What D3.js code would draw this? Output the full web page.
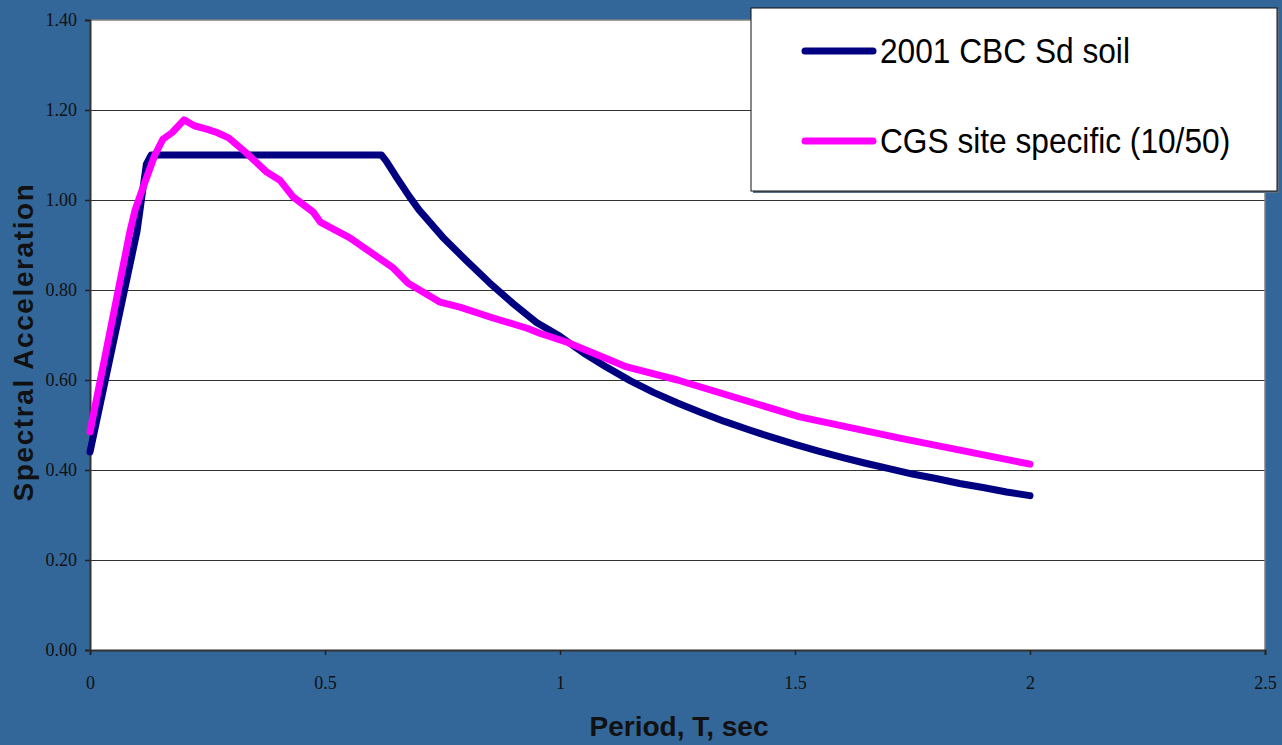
<!DOCTYPE html>
<html>
<head>
<meta charset="utf-8">
<script src="https://cdn.jsdelivr.net/npm/d3@7"></script>
<style>
  html, body { margin: 0; padding: 0; background: #336699; }
  svg { display: block; }
</style>
</head>
<body>
<svg id="chart" width="1282" height="745"></svg>
<script>
// Design response spectrum: 2001 CBC, soil type Sd
const cbcPeriod = [0, 0.10, 0.12, 0.13, 0.62, 0.63, 0.65, 0.68, 0.70, 0.75, 0.80, 0.85, 0.90, 0.95,
  1.00, 1.05, 1.10, 1.15, 1.20, 1.25, 1.30, 1.35, 1.40, 1.45, 1.50, 1.55, 1.60, 1.65, 1.70,
  1.75, 1.80, 1.85, 1.90, 1.95, 2.00];
const cbcSa = [0.44, 0.93, 1.08, 1.10, 1.10, 1.087, 1.054, 1.007, 0.978, 0.918, 0.866, 0.816, 0.770, 0.728,
  0.697, 0.660, 0.628, 0.598, 0.572, 0.549, 0.528, 0.508, 0.490, 0.473, 0.457, 0.442, 0.428, 0.415, 0.403,
  0.391, 0.381, 0.370, 0.361, 0.351, 0.343];

// CGS site-specific spectrum, 10% in 50 years
const cgsPeriod = [0, 0.085, 0.096, 0.117, 0.138, 0.155, 0.175, 0.20, 0.222, 0.25, 0.27, 0.295, 0.33,
  0.376, 0.404, 0.432, 0.475, 0.49, 0.553, 0.645, 0.677, 0.745, 0.787, 0.851, 0.93, 0.957, 1.015,
  1.142, 1.25, 1.51, 1.723, 2.00];
const cgsSa = [0.485, 0.93, 0.978, 1.04, 1.10, 1.135, 1.15, 1.178, 1.165, 1.157, 1.15, 1.138, 1.107,
  1.062, 1.044, 1.007, 0.973, 0.951, 0.916, 0.849, 0.815, 0.773, 0.762, 0.740, 0.715, 0.704, 0.684,
  0.629, 0.600, 0.518, 0.471, 0.413];

const seriesNames = ["2001 CBC Sd soil", "CGS site specific (10/50)"];
const seriesColors = ["#000080", "#ff00ff"];

const yTicks = [0, 0.2, 0.4, 0.6, 0.8, 1.0, 1.2, 1.4];
const xTicks = [0, 0.5, 1, 1.5, 2, 2.5];

const svg = d3.select("#chart");
const plot = { left: 90, top: 20, right: 1265, bottom: 650 };

const x = d3.scaleLinear().domain([0, 2.5]).range([plot.left, plot.right]);
const y = d3.scaleLinear().domain([0, 1.4]).range([plot.bottom, plot.top]);

// plot background
svg.append("rect")
  .attr("x", plot.left).attr("y", plot.top)
  .attr("width", plot.right - plot.left).attr("height", plot.bottom - plot.top)
  .attr("fill", "#ffffff");

// horizontal gridlines
svg.append("g")
  .selectAll("line")
  .data(yTicks.filter(d => d > 0 && d < 1.4))
  .join("line")
  .attr("x1", plot.left).attr("x2", plot.right)
  .attr("y1", d => y(d)).attr("y2", d => y(d))
  .attr("stroke", "#333")
  .attr("stroke-width", 1)
  .attr("shape-rendering", "crispEdges");

// frame: light top/right, dark left/bottom
svg.append("line").attr("x1", plot.left).attr("x2", plot.right)
  .attr("y1", plot.top).attr("y2", plot.top)
  .attr("stroke", "#808080").attr("stroke-width", 1.5);
svg.append("line").attr("x1", plot.right).attr("x2", plot.right)
  .attr("y1", plot.top).attr("y2", plot.bottom)
  .attr("stroke", "#808080").attr("stroke-width", 1.5);

const tickFont = "'Liberation Serif', 'Times New Roman', serif";

// y axis
const yAxis = svg.append("g")
  .attr("transform", `translate(${plot.left},0)`)
  .call(d3.axisLeft(y).tickValues(yTicks).tickFormat(d3.format(".2f")).tickSize(5).tickPadding(8));
yAxis.select(".domain").attr("stroke", "#333").attr("stroke-width", 2);
yAxis.selectAll(".tick line").attr("stroke", "#222").attr("stroke-width", 1.5);
yAxis.selectAll(".tick text")
  .attr("fill", "#111")
  .style("font-family", tickFont)
  .style("font-size", "18px");

// x axis
const xAxis = svg.append("g")
  .attr("transform", `translate(0,${plot.bottom})`)
  .call(d3.axisBottom(x).tickValues(xTicks).tickFormat(d => String(d)).tickSize(5).tickPadding(21));
xAxis.select(".domain").attr("stroke", "#333").attr("stroke-width", 2);
xAxis.selectAll(".tick line").attr("stroke", "#222").attr("stroke-width", 1.5);
xAxis.selectAll(".tick text")
  .attr("fill", "#111")
  .style("font-family", tickFont)
  .style("font-size", "18px");

// series lines
const line = d3.line().x(d => x(d[0])).y(d => y(d[1]));
const series = [
  d3.zip(cbcPeriod, cbcSa),
  d3.zip(cgsPeriod, cgsSa)
];
series.forEach((pts, i) => {
  svg.append("path")
    .datum(pts)
    .attr("d", line)
    .attr("fill", "none")
    .attr("stroke", seriesColors[i])
    .attr("stroke-width", 7)
    .attr("stroke-linejoin", "round")
    .attr("stroke-linecap", "round");
});

// axis titles
svg.append("text")
  .attr("x", 679).attr("y", 736)
  .attr("text-anchor", "middle")
  .attr("fill", "#111")
  .style("font-family", "'Liberation Sans', Arial, sans-serif")
  .style("font-weight", "bold")
  .style("font-size", "28px")
  .text("Period, T, sec");

svg.append("text")
  .attr("transform", "translate(33,342) rotate(-90)")
  .attr("text-anchor", "middle")
  .attr("fill", "#111")
  .style("font-family", "'Liberation Sans', Arial, sans-serif")
  .style("font-weight", "bold")
  .style("font-size", "28px")
  .style("letter-spacing", "1.6px")
  .text("Spectral Acceleration");

// legend
const legend = svg.append("g");
legend.append("rect")
  .attr("x", 753).attr("y", 10).attr("width", 526).attr("height", 183)
  .attr("fill", "#5a6f86");
legend.append("rect")
  .attr("x", 751).attr("y", 8).attr("width", 526).attr("height", 183)
  .attr("fill", "#ffffff").attr("stroke", "#111").attr("stroke-width", 1);

const legendRows = [51, 141];
seriesNames.forEach((name, i) => {
  legend.append("line")
    .attr("x1", 805).attr("x2", 873)
    .attr("y1", legendRows[i]).attr("y2", legendRows[i])
    .attr("stroke", seriesColors[i]).attr("stroke-width", 7)
    .attr("stroke-linecap", "round");
  legend.append("text")
    .attr("transform", `translate(880,${legendRows[i] + 12}) scale(0.88,1)`)
    .attr("fill", "#000")
    .style("font-family", "'Liberation Sans', Arial, sans-serif")
    .style("font-size", "36px")
    .text(name);
});
</script>
</body>
</html>
